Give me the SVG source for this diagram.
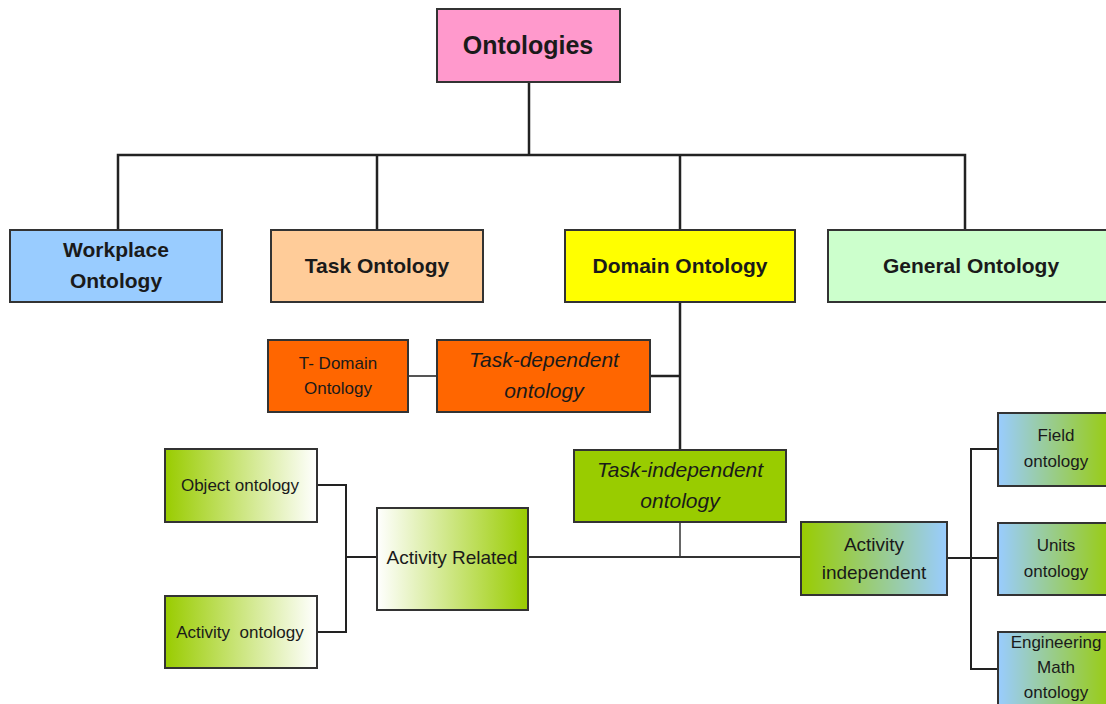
<svg xmlns="http://www.w3.org/2000/svg" width="1106" height="704" viewBox="0 0 1106 704">
  <defs>
    <linearGradient id="gWhiteGreen" x1="0" y1="0" x2="1" y2="0">
      <stop offset="0" stop-color="#ffffff"/>
      <stop offset="1" stop-color="#99cc00"/>
    </linearGradient>
    <linearGradient id="gGreenWhite" x1="0" y1="0" x2="1" y2="0">
      <stop offset="0" stop-color="#99cc00"/>
      <stop offset="1" stop-color="#ffffff"/>
    </linearGradient>
    <linearGradient id="gGreenBlue" x1="0" y1="0" x2="1" y2="0">
      <stop offset="0" stop-color="#99cc00"/>
      <stop offset="1" stop-color="#99ccff"/>
    </linearGradient>
    <linearGradient id="gBlueGreen" x1="0" y1="0" x2="1" y2="0">
      <stop offset="0" stop-color="#99ccff"/>
      <stop offset="1" stop-color="#99cc00"/>
    </linearGradient>
  </defs>
  <style>
    .box { stroke: #333333; stroke-width: 2; }
    text { font-family: "Liberation Sans", Arial, sans-serif; fill: #1a1a1a; text-anchor: middle; }
    .title { font-size: 25px; font-weight: bold; }
    .bold { font-size: 21px; font-weight: bold; }
    .ital { font-size: 21px; font-style: italic; }
    .small { font-size: 17px; }
    .mid { font-size: 19px; }
    .conn { fill: none; stroke: #222222; stroke-width: 2.5; }
  </style>
  <rect width="1106" height="704" fill="#ffffff"/>

  <g id="connectors">
    <path class="conn" d="M529,82 V155"/>
    <path class="conn" d="M118,230 V155 H965 V230"/>
    <path class="conn" d="M377,155 V230"/>
    <path class="conn" d="M680,155 V230"/>
    <path class="conn" d="M680,303 V449"/>
    <path class="conn" d="M650,376 H680"/>
    <path class="conn" d="M408,376 H437" style="stroke:#555555;stroke-width:2"/>
    <path class="conn" d="M680,522 V557" style="stroke:#666666;stroke-width:2"/>
    <path class="conn" d="M528,557 H801" style="stroke:#333333;stroke-width:2"/>
    <path class="conn" d="M317,485 H346 V632 H317" style="stroke-width:2"/>
    <path class="conn" d="M346,557 H377" style="stroke-width:2"/>
    <path class="conn" d="M947,558 H998" style="stroke-width:2"/>
    <path class="conn" d="M998,449 H971 V669 H998" style="stroke-width:2"/>
  </g>

  <g id="ontologies">
    <rect class="box" x="437" y="9" width="183" height="73" fill="#ff99cc"/>
    <text class="title" x="528" y="54">Ontologies</text>
  </g>

  <g id="workplace">
    <rect class="box" x="10" y="230" width="212" height="72" fill="#99ccff"/>
    <text class="bold" x="116" y="257">Workplace</text>
    <text class="bold" x="116" y="288">Ontology</text>
  </g>

  <g id="task">
    <rect class="box" x="271" y="230" width="212" height="72" fill="#ffcc99"/>
    <text class="bold" x="377" y="273">Task Ontology</text>
  </g>

  <g id="domain">
    <rect class="box" x="565" y="230" width="230" height="72" fill="#ffff00"/>
    <text class="bold" x="680" y="273">Domain Ontology</text>
  </g>

  <g id="general">
    <rect class="box" x="828" y="230" width="290" height="72" fill="#ccffcc"/>
    <text class="bold" x="971" y="273">General Ontology</text>
  </g>

  <g id="t-domain">
    <rect class="box" x="268" y="340" width="140" height="72" fill="#ff6600"/>
    <text class="small" x="338" y="369">T- Domain</text>
    <text class="small" x="338" y="394">Ontology</text>
  </g>

  <g id="task-dependent">
    <rect class="box" x="437" y="340" width="213" height="72" fill="#ff6600"/>
    <text class="ital" x="544" y="367">Task-dependent</text>
    <text class="ital" x="544" y="398">ontology</text>
  </g>

  <g id="task-independent">
    <rect class="box" x="574" y="450" width="212" height="72" fill="#99cc00"/>
    <text class="ital" x="680" y="477">Task-independent</text>
    <text class="ital" x="680" y="508">ontology</text>
  </g>

  <g id="object">
    <rect class="box" x="165" y="449" width="152" height="73" fill="url(#gGreenWhite)"/>
    <text class="small" x="240" y="491">Object ontology</text>
  </g>

  <g id="activity">
    <rect class="box" x="165" y="596" width="152" height="72" fill="url(#gGreenWhite)"/>
    <text class="small" x="240" y="638" xml:space="preserve">Activity  ontology</text>
  </g>

  <g id="activity-related">
    <rect class="box" x="377" y="508" width="151" height="102" fill="url(#gWhiteGreen)"/>
    <text class="mid" x="452" y="564">Activity Related</text>
  </g>

  <g id="activity-independent">
    <rect class="box" x="801" y="522" width="146" height="73" fill="url(#gGreenBlue)"/>
    <text class="mid" x="874" y="551">Activity</text>
    <text class="mid" x="874" y="579">independent</text>
  </g>

  <g id="field">
    <rect class="box" x="998" y="413" width="120" height="73" fill="url(#gBlueGreen)"/>
    <text class="small" x="1056" y="441">Field</text>
    <text class="small" x="1056" y="467">ontology</text>
  </g>

  <g id="units">
    <rect class="box" x="998" y="523" width="120" height="72" fill="url(#gBlueGreen)"/>
    <text class="small" x="1056" y="551">Units</text>
    <text class="small" x="1056" y="577">ontology</text>
  </g>

  <g id="engineering-math">
    <rect class="box" x="998" y="632" width="120" height="80" fill="url(#gBlueGreen)"/>
    <text class="small" x="1056" y="648">Engineering</text>
    <text class="small" x="1056" y="673">Math</text>
    <text class="small" x="1056" y="698">ontology</text>
  </g>
</svg>
